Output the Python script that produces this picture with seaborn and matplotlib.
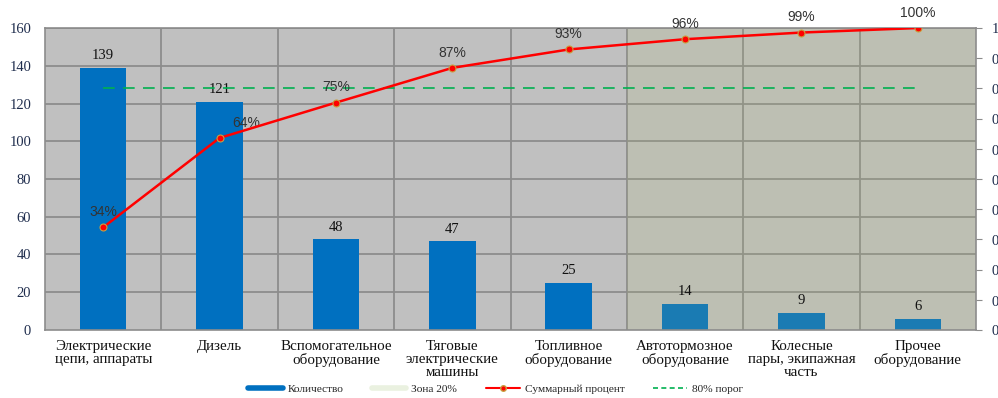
import numpy as np
import pandas as pd
import matplotlib
matplotlib.use("Agg")
import matplotlib.pyplot as plt
from matplotlib.lines import Line2D
import seaborn as sns

# data
categories = ["Электрические\nцепи, аппараты", "Дизель", "Вспомогательное\nоборудование",
              "Тяговые\nэлектрические\nмашины", "Топливное\nоборудование",
              "Автотормозное\nоборудование", "Колесные\nпары, экипажная\nчасть",
              "Прочее\nоборудование"]
counts = [139, 121, 48, 47, 25, 14, 9, 6]
cum_share = [0.340, 0.636, 0.753, 0.868, 0.929, 0.963, 0.985, 1.0]
cum_labels = ["34%", "64%", "75%", "87%", "93%", "96%", "99%", "100%"]
threshold = 0.8
zone_start = 5  # index of first category in the 20% zone
left_ticks = [0, 20, 40, 60, 80, 100, 120, 140, 160]
right_ticks = [0, 0.1, 0.2, 0.3, 0.4, 0.5, 0.6, 0.7, 0.8, 0.9, 1.0]
right_tick_labels = ["0", "0,1", "0,2", "0,3", "0,4", "0,5", "0,6", "0,7", "0,8", "0,9", "1"]

sns.set_style("white")
plt.rcParams["font.family"] = ["Liberation Serif", "DejaVu Serif"]

df = pd.DataFrame({"x": np.arange(len(counts)), "cat": categories, "count": counts,
                   "cum": cum_share})

fig = plt.figure(figsize=(9.98, 3.98), dpi=100)
ax = fig.add_axes([0.0451, 0.1709, 0.9329, 0.7587])
ax.set_facecolor("#c0c0c0")

grid_col = "#8c8c8c"
for y in left_ticks[1:]:
    ax.axhline(y, color=grid_col, lw=1.3, zorder=1)
for i in range(len(counts) - 1):
    ax.axvline(i + 0.5, color=grid_col, lw=1.3, zorder=1)

sns.barplot(data=df, x="x", y="count", color="#0070c0", width=0.4, saturation=1,
            ax=ax, zorder=2, native_scale=True, linewidth=0)
for xi, v in zip(df["x"], counts):
    ax.text(xi, v + 3, str(v), ha="center", va="bottom", fontsize=10.5, color="#111111")

# 20% zone shading
ax.axvspan(zone_start - 0.5, len(counts) - 0.5, color="#afbe6e", alpha=0.15, lw=0, zorder=2.5)

ax.set_xlim(-0.5, len(counts) - 0.5)
ax.set_ylim(0, 160)
ax.set_yticks(left_ticks)
ax.set_xticks(df["x"])
ax.set_xticklabels(categories, fontsize=10.8, linespacing=1.02, color="#111111")
ax.tick_params(axis="x", length=0, pad=7)
ax.tick_params(axis="y", length=0, pad=10, labelsize=10.5, labelcolor="#1f2d4d")
ax.set_xlabel("")
ax.set_ylabel("")
for s in ax.spines.values():
    s.set_color(grid_col)
    s.set_linewidth(1.2)

ax2 = ax.twinx()
sns.lineplot(data=df, x="x", y="cum", ax=ax2, color="#ff0000", lw=1.8, marker="o",
             markersize=5, markerfacecolor="#ff0000", markeredgecolor="#c8a040",
             markeredgewidth=0.8, zorder=4)
ax2.plot([0, len(counts) - 1], [threshold, threshold], color="#00b050", lw=1.2,
         dashes=(7, 5), zorder=3)
for i, (v, lab) in enumerate(zip(cum_share, cum_labels)):
    dx = 19 if i == 1 else 0
    ax2.annotate(lab, (i, v), xytext=(dx, 11), textcoords="offset points",
                 ha="center", va="center", fontsize=10, color="#333333",
                 family=["Liberation Sans", "DejaVu Sans"], annotation_clip=False)

ax2.set_ylim(0, 1)
ax2.set_yticks(right_ticks)
ax2.set_yticklabels(right_tick_labels)
ax2.tick_params(axis="y", length=4, width=0.8, color=grid_col, pad=7,
                labelsize=10.5, labelcolor="#1f2d4d")
ax2.set_xlim(-0.5, len(counts) - 0.5)
ax2.set_xlabel("")
ax2.set_ylabel("")
for s in ax2.spines.values():
    s.set_visible(False)

handles = [
    Line2D([], [], color="#0070c0", lw=4),
    Line2D([], [], color="#eaf1e0", lw=4),
    Line2D([], [], color="#ff0000", lw=1.5, marker="o", markersize=4,
           markerfacecolor="#ff0000", markeredgecolor="#c8a040"),
    Line2D([], [], color="#00b050", lw=1.2, dashes=(3, 2)),
]
labels = ["Количество", "Зона 20%", "Суммарный процент", "80% порог"]
fig.legend(handles, labels, loc="center", bbox_to_anchor=(0.497, 0.022), ncol=4,
           frameon=False, fontsize=8.2, handlelength=3.0, columnspacing=2.5,
           handletextpad=0.45)

fig.savefig("out.png", dpi=100)
